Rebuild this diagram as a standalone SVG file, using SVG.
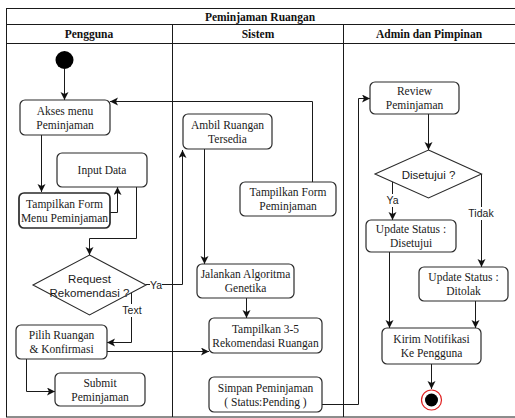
<svg xmlns="http://www.w3.org/2000/svg" width="515" height="418" viewBox="0 0 515 418">
  <style>
    .frame { fill: none; stroke: #1a1a1a; stroke-width: 1; }
    .box { fill: #ffffff; stroke: #2a2a2a; stroke-width: 1.2; }
    .box-bold { fill: #ffffff; stroke: #2a2a2a; stroke-width: 1.7; }
    .dia { fill: #ffffff; stroke: #2a2a2a; stroke-width: 1.1; }
    .t { font-family: "Liberation Serif", "Times New Roman", serif; font-size: 11.5px; fill: #1a1a1a; text-anchor: middle; dominant-baseline: central; }
    .hd { font-family: "Liberation Serif", "Times New Roman", serif; font-size: 11.5px; font-weight: bold; fill: #111; text-anchor: middle; dominant-baseline: central; }
    .s { font-family: "Liberation Sans", Arial, sans-serif; font-size: 11.5px; fill: #1a1a1a; text-anchor: middle; dominant-baseline: central; }
    .lbl { font-family: "Liberation Sans", Arial, sans-serif; font-size: 10.5px; fill: #1a1a1a; text-anchor: middle; dominant-baseline: central; }
    .edge { fill: none; stroke: #1a1a1a; stroke-width: 1; }
    .arr { marker-end: url(#arrow); }
  </style>
  <defs>
    <marker id="arrow" markerUnits="userSpaceOnUse" markerWidth="9" markerHeight="9" refX="8" refY="4" orient="auto">
      <path d="M0,0 L8,4 L0,8 L2,4 z" fill="#111"/>
    </marker>
  </defs>

  <rect width="515" height="418" fill="#ffffff"/>

  <!-- swimlane frame -->
  <g id="lanes">
    <rect class="frame" x="6.5" y="8.5" width="512" height="408.5"/>
    <line class="frame" x1="6.5" y1="24.5" x2="518" y2="24.5"/>
    <line class="frame" x1="6.5" y1="43.5" x2="518" y2="43.5"/>
    <line class="frame" x1="172.5" y1="24.5" x2="172.5" y2="417"/>
    <line class="frame" x1="343.5" y1="24.5" x2="343.5" y2="417"/>
    <text class="hd" x="260" y="16.5">Peminjaman Ruangan</text>
    <text class="hd" x="89" y="34">Pengguna</text>
    <text class="hd" x="258" y="34">Sistem</text>
    <text class="hd" x="429" y="34">Admin dan Pimpinan</text>
  </g>

  <!-- connectors -->
  <g id="connectors">
    <path class="edge arr" d="M64.5,69 V100"/>
    <path class="edge arr" d="M41.5,135 V192"/>
    <path class="edge arr" d="M110,212.5 H117.5 V187"/>
    <path class="edge arr" d="M136.5,187 V238.5 H89.5 V255"/>
    <path class="edge arr" d="M146,284.5 H182.5 V150"/>
    <path class="edge arr" d="M131.5,293 V342.5 H107"/>
    <path class="edge arr" d="M107,351.5 H209"/>
    <path class="edge arr" d="M26.5,359 V391.5 H55"/>
    <path class="edge arr" d="M204.5,149 V264"/>
    <path class="edge arr" d="M246.5,298 V318"/>
    <path class="edge arr" d="M312.5,182 V101.5 H110"/>
    <path class="edge arr" d="M322,404.5 H358.5 V98.5 H370"/>
    <path class="edge arr" d="M428.5,114 V150"/>
    <path class="edge arr" d="M392.5,181 V220"/>
    <path class="edge arr" d="M481.5,174 V267"/>
    <path class="edge arr" d="M389.5,252 V328"/>
    <path class="edge arr" d="M475.5,301 V328"/>
    <path class="edge arr" d="M431.5,364 V389"/>
    <!-- edge labels -->
    <rect x="150" y="278" width="12" height="13" fill="#ffffff"/>
    <text class="lbl" x="156" y="284.5">Ya</text>
    <rect x="121" y="304" width="22" height="13" fill="#ffffff"/>
    <text class="lbl" x="132" y="310">Text</text>
    <rect x="386" y="194" width="13" height="13" fill="#ffffff"/>
    <text class="lbl" x="392.5" y="200">Ya</text>
    <rect x="469" y="207" width="24" height="13" fill="#ffffff"/>
    <text class="lbl" x="481" y="213">Tidak</text>
  </g>

  <!-- Pengguna lane -->
  <g id="start">
    <circle cx="64.5" cy="60" r="9" fill="#000000"/>
  </g>
  <g id="akses-menu">
    <rect class="box" x="20" y="100" width="90" height="35" rx="5"/>
    <text class="t" x="65" y="110.5">Akses menu</text>
    <text class="t" x="65" y="124.5">Peminjaman</text>
  </g>
  <g id="input-data">
    <rect class="box" x="57" y="153" width="90" height="34" rx="5"/>
    <text class="t" x="102" y="170">Input Data</text>
  </g>
  <g id="tampilkan-form-menu">
    <rect class="box-bold" x="19" y="193" width="91" height="35" rx="5"/>
    <text class="t" x="64.5" y="203.5">Tampilkan Form</text>
    <text class="t" x="64.5" y="217.5">Menu Peminjaman</text>
  </g>
  <g id="request-rekomendasi">
    <polygon class="dia" points="89.5,255 146,285 89.5,315 33,285"/>
    <text class="s" x="89.5" y="279">Request</text>
    <text class="s" x="89.5" y="293">Rekomendasi ?</text>
  </g>
  <g id="pilih-ruangan">
    <rect class="box" x="16" y="325" width="91" height="34" rx="5"/>
    <text class="t" x="61.5" y="335">Pilih Ruangan</text>
    <text class="t" x="61.5" y="349">&amp; Konfirmasi</text>
  </g>
  <g id="submit-peminjaman">
    <rect class="box" x="55" y="373" width="90" height="33" rx="5"/>
    <text class="t" x="100" y="382.5">Submit</text>
    <text class="t" x="100" y="396.5">Peminjaman</text>
  </g>

  <!-- Sistem lane -->
  <g id="ambil-ruangan">
    <rect class="box" x="183" y="114" width="89" height="35" rx="5"/>
    <text class="t" x="227.5" y="124.5">Ambil Ruangan</text>
    <text class="t" x="227.5" y="138.5">Tersedia</text>
  </g>
  <g id="tampilkan-form">
    <rect class="box" x="240" y="182" width="96" height="34" rx="5"/>
    <text class="t" x="288" y="192">Tampilkan Form</text>
    <text class="t" x="288" y="206">Peminjaman</text>
  </g>
  <g id="jalankan-algoritma">
    <rect class="box" x="197" y="264" width="97" height="34" rx="5"/>
    <text class="t" x="245.5" y="274">Jalankan Algoritma</text>
    <text class="t" x="245.5" y="288">Genetika</text>
  </g>
  <g id="tampilkan-rekomendasi">
    <rect class="box" x="209" y="318" width="113" height="35" rx="5"/>
    <text class="t" x="265.5" y="328.5">Tampilkan 3-5</text>
    <text class="t" x="265.5" y="342.5">Rekomendasi Ruangan</text>
  </g>
  <g id="simpan-peminjaman">
    <rect class="box" x="209" y="377" width="113" height="35" rx="5"/>
    <text class="t" x="265.5" y="387.5">Simpan Peminjaman</text>
    <text class="t" x="265.5" y="401.5">( Status:Pending )</text>
  </g>

  <!-- Admin dan Pimpinan lane -->
  <g id="review-peminjaman">
    <rect class="box" x="370" y="82" width="89" height="32" rx="5"/>
    <text class="t" x="414.5" y="91">Review</text>
    <text class="t" x="414.5" y="105">Peminjaman</text>
  </g>
  <g id="disetujui">
    <polygon class="dia" points="428.5,150 481.5,174 428.5,198 375,174"/>
    <text class="s" x="428.5" y="175">Disetujui ?</text>
  </g>
  <g id="update-disetujui">
    <rect class="box" x="366" y="220" width="90" height="32" rx="5"/>
    <text class="t" x="411" y="229">Update Status :</text>
    <text class="t" x="411" y="243">Disetujui</text>
  </g>
  <g id="update-ditolak">
    <rect class="box" x="419" y="267" width="89" height="34" rx="5"/>
    <text class="t" x="463.5" y="277">Update Status :</text>
    <text class="t" x="463.5" y="291">Ditolak</text>
  </g>
  <g id="kirim-notifikasi">
    <rect class="box" x="382" y="328" width="99" height="36" rx="5"/>
    <text class="t" x="431.5" y="339">Kirim Notifikasi</text>
    <text class="t" x="431.5" y="353">Ke Pengguna</text>
  </g>
  <g id="end">
    <circle cx="431.5" cy="400" r="10" fill="#ffffff" stroke="#e02020" stroke-width="1.2"/>
    <circle cx="431.5" cy="400" r="6.5" fill="#000000"/>
  </g>
</svg>
